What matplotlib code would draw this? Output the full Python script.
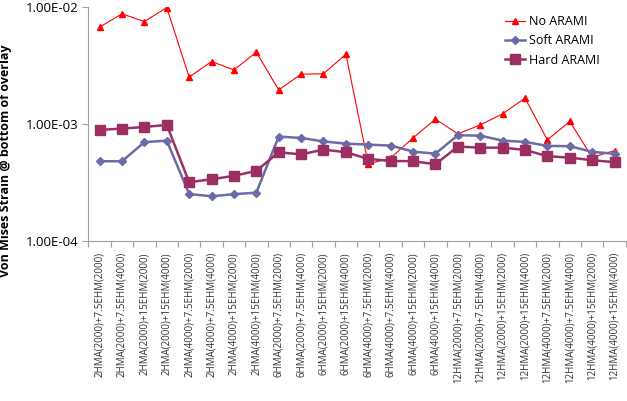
import numpy as np
import matplotlib
matplotlib.use('Agg')
import matplotlib.pyplot as plt
from matplotlib.ticker import FixedLocator, FuncFormatter, NullLocator

categories = ['2HMA(2000)+7.5EHM(2000)', '2HMA(2000)+7.5EHM(4000)',
              '2HMA(2000)+15EHM(2000)', '2HMA(2000)+15EHM(4000)',
              '2HMA(4000)+7.5EHM(2000)', '2HMA(4000)+7.5EHM(4000)',
              '2HMA(4000)+15EHM(2000)', '2HMA(4000)+15EHM(4000)',
              '6HMA(2000)+7.5EHM(2000)', '6HMA(2000)+7.5EHM(4000)',
              '6HMA(2000)+15EHM(2000)', '6HMA(2000)+15EHM(4000)',
              '6HMA(4000)+7.5EHM(2000)', '6HMA(4000)+7.5EHM(4000)',
              '6HMA(4000)+15EHM(2000)', '6HMA(4000)+15EHM(4000)',
              '12HMA(2000)+7.5EHM(2000)', '12HMA(2000)+7.5EHM(4000)',
              '12HMA(2000)+15EHM(2000)', '12HMA(2000)+15EHM(4000)',
              '12HMA(4000)+7.5EHM(2000)', '12HMA(4000)+7.5EHM(4000)',
              '12HMA(4000)+15EHM(2000)', '12HMA(4000)+15EHM(4000)']

no_arami = [6.71e-3, 8.71e-3, 7.49e-3, 9.86e-3, 2.51e-3, 3.41e-3, 2.89e-3, 4.10e-3,
            1.95e-3, 2.66e-3, 2.68e-3, 3.94e-3, 4.55e-4, 5.12e-4, 7.59e-4, 1.10e-3,
            8.22e-4, 9.80e-4, 1.22e-3, 1.66e-3, 7.30e-4, 1.05e-3, 5.19e-4, 5.91e-4]
soft_arami = [4.80e-4, 4.80e-4, 6.98e-4, 7.20e-4, 2.52e-4, 2.41e-4, 2.51e-4, 2.59e-4,
              7.79e-4, 7.59e-4, 7.08e-4, 6.79e-4, 6.65e-4, 6.53e-4, 5.80e-4, 5.57e-4,
              8.00e-4, 7.94e-4, 7.20e-4, 7.02e-4, 6.49e-4, 6.45e-4, 5.77e-4, 5.57e-4]
hard_arami = [8.89e-4, 9.12e-4, 9.42e-4, 9.80e-4, 3.18e-4, 3.37e-4, 3.60e-4, 3.97e-4,
              5.73e-4, 5.49e-4, 6.03e-4, 5.73e-4, 5.02e-4, 4.83e-4, 4.80e-4, 4.53e-4,
              6.40e-4, 6.27e-4, 6.27e-4, 6.00e-4, 5.30e-4, 5.15e-4, 4.90e-4, 4.71e-4]
y_ticks = [1e-4, 1e-3, 1e-2]

plt.rcParams['font.family'] = ['Open Sans', 'DejaVu Sans']

fig = plt.figure(figsize=(6.27, 4.01), dpi=100)
ax = fig.add_axes([0.141, 0.399, 0.857, 0.584])

x = np.arange(len(categories))
ax.plot(x, no_arami, color='#FF0000', lw=0.8, marker='^', ms=4.5, label='No ARAMI')
ax.plot(x, soft_arami, color='#6B6BA8', lw=1.8, marker='D', ms=4.5, label='Soft ARAMI')
ax.plot(x, hard_arami, color='#9B2F62', lw=1.8, marker='s', ms=6.5, label='Hard ARAMI')

ax.set_yscale('log')
ax.set_ylim(1e-4, 1e-2)
ax.yaxis.set_major_locator(FixedLocator(y_ticks))
ax.yaxis.set_minor_locator(NullLocator())
ax.yaxis.set_major_formatter(FuncFormatter(lambda v, p: '%.2E' % v))
ax.set_xlim(-0.5, len(categories) - 0.5)

# Excel style: ticks between categories, labels centred
ax.set_xticks(np.arange(len(categories) + 1) - 0.5)
ax.set_xticklabels([])
ax.set_xticks(x, minor=True)
ax.set_xticklabels(categories, minor=True, rotation=90, fontsize=7, color='#333333')
ax.tick_params(axis='x', which='minor', length=0, pad=8)
ax.tick_params(axis='x', which='major', length=4, color='#A0A0A0', direction='out')
ax.tick_params(axis='y', length=4, color='#A0A0A0', labelsize=9.5, pad=3)

for s in ['top', 'right']:
    ax.spines[s].set_visible(False)
for s in ['left', 'bottom']:
    ax.spines[s].set_color('#A0A0A0')

fig.text(6 / 627, 1 - 161 / 401, 'Von Mises Strain @ bottom of overlay', rotation=90,
         ha='center', va='center', fontsize=9, fontweight='bold')

ax.legend(loc='upper left', bbox_to_anchor=(494 / 627, 1 - 4 / 401),
          bbox_transform=fig.transFigure, frameon=False, fontsize=9,
          handlelength=1.6, handletextpad=0.3, labelspacing=0.5)

plt.savefig('out.png', dpi=100)
